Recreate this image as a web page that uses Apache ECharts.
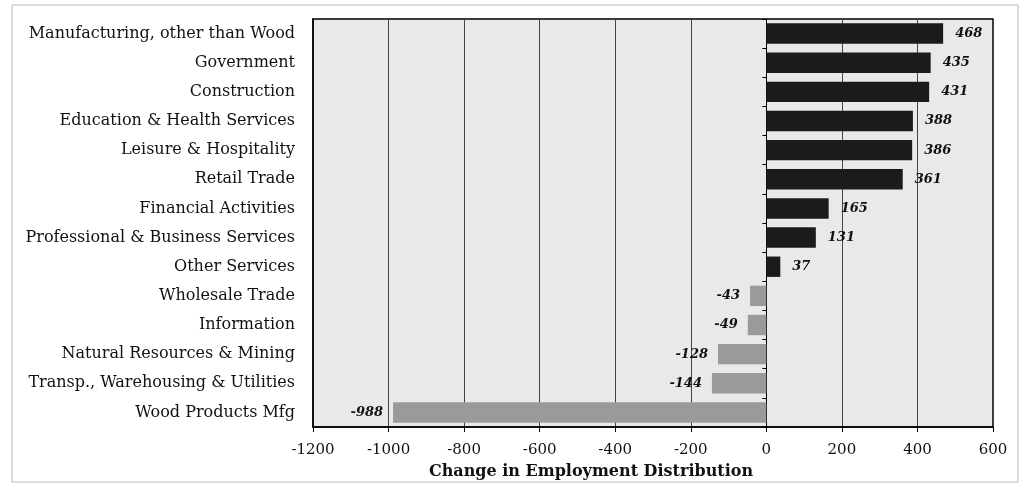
<!DOCTYPE html>
<html><head><meta charset="utf-8">
<script src="https://cdn.jsdelivr.net/npm/echarts@6/dist/echarts.min.js"></script>
<style>html,body{margin:0;padding:0;background:#fff}#c{width:1025px;height:489px}</style>
</head><body><div id="c"></div>
<script>
const categories = ["Manufacturing, other than Wood","Government","Construction","Education & Health Services","Leisure & Hospitality","Retail Trade","Financial Activities","Professional & Business Services","Other Services","Wholesale Trade","Information","Natural Resources & Mining","Transp., Warehousing & Utilities","Wood Products Mfg"];
const values = [468,435,431,388,386,361,165,131,37,-43,-49,-128,-144,-988];
const axisTitle = "Change in Employment Distribution";

const font = "'DejaVu Serif',serif";
const chart = echarts.init(document.getElementById('c'));
chart.setOption({
  animation:false,
  backgroundColor:'#fff',
  graphic:[{type:'rect',shape:{x:12,y:5,width:1006,height:477},style:{fill:'none',stroke:'#bbb',lineWidth:1},z:-1}],
  grid:{left:313,right:32,top:19,bottom:62,show:true,backgroundColor:'#e9e9e9',borderColor:'#000',borderWidth:1.5},
  xAxis:{type:'value',min:-1200,max:600,interval:200,
    name:axisTitle,nameLocation:'middle',nameGap:37,
    nameTextStyle:{fontFamily:font,fontWeight:'bold',fontSize:16,color:'#111',padding:[0,124,0,0]},
    axisLine:{show:true,lineStyle:{color:'#000',width:1.5}},
    axisTick:{show:true,length:5,lineStyle:{color:'#000'}},
    axisLabel:{fontFamily:font,fontSize:15,color:'#111',margin:16,formatter:v=>String(v)},
    splitLine:{show:true,lineStyle:{color:'#444',width:1}}},
  yAxis:[{type:'category',data:categories,inverse:true,
    axisLine:{show:true,onZero:false,lineStyle:{color:'#000',width:1.5}},
    axisTick:{show:false},
    axisLabel:{fontFamily:font,fontSize:16,color:'#111',margin:18}},
   {type:'category',data:categories,inverse:true,position:'left',
    axisLine:{show:true,onZero:true,lineStyle:{color:'#000',width:1}},
    axisTick:{show:true,length:4,lineStyle:{color:'#000'}},
    axisLabel:{show:false}}],
  series:[{type:'bar',yAxisIndex:0,barWidth:'70%',
    data:values.map(v=>({value:v,label:{position:v>=0?'right':'left',distance:v>=0?12:10}})),
    itemStyle:{color:p=>p.value>=0?'#1b1b1b':'#9a9a9a'},
    label:{show:true,fontFamily:font,fontWeight:'bold',fontStyle:'italic',fontSize:13,color:'#111',
      formatter:p=>String(p.value)}
  }]
});
</script></body></html>
